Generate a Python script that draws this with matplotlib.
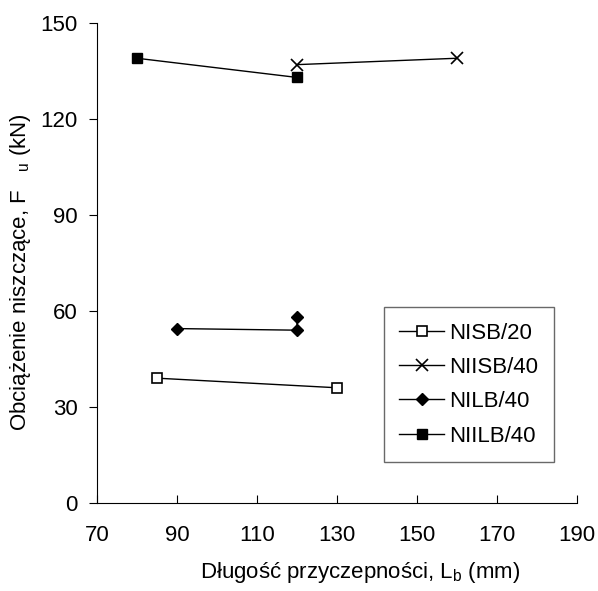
import matplotlib
matplotlib.use("Agg")
from matplotlib import pyplot as plt

plt.rcParams['font.family'] = ['Liberation Sans', 'DejaVu Sans']
plt.rcParams['mathtext.fontset'] = 'custom'
plt.rcParams['mathtext.rm'] = 'Liberation Sans'

# data
NISB20_X = [85, 130]
NISB20_Y = [39, 36]
NIISB40_X = [120, 160]
NIISB40_Y = [137, 139]
NILB40_X = [90, 120, 120]
NILB40_Y = [54.5, 54, 58]
NIILB40_X = [80, 120]
NIILB40_Y = [139, 133]

X_TICKS = [70, 90, 110, 130, 150, 170, 190]
Y_TICKS = [0, 30, 60, 90, 120, 150]

fig = plt.figure(figsize=(5.98, 5.91), dpi=100)
ax = fig.add_axes([0.162, 0.149, 0.803, 0.812])

ax.plot(NISB20_X, NISB20_Y, color='black', lw=1, marker='s', ms=7,
        mfc='white', mec='black', mew=1.2, label='NISB/20')
ax.plot(NIISB40_X, NIISB40_Y, color='black', lw=1, marker='x', ms=9,
        mew=1.2, label='NIISB/40')
ax.plot(NILB40_X, NILB40_Y, color='black', lw=1, marker='D', ms=6,
        label='NILB/40')
ax.plot(NIILB40_X, NIILB40_Y, color='black', lw=1, marker='s', ms=7,
        label='NIILB/40')

ax.set_xlim(70, 190)
ax.set_ylim(0, 150)
ax.set_xticks(X_TICKS)
ax.set_yticks(Y_TICKS)
ax.spines['top'].set_visible(False)
ax.spines['right'].set_visible(False)
ax.tick_params(axis='x', direction='in', length=6, labelsize=16, pad=16)
ax.tick_params(axis='y', direction='out', length=6, labelsize=16, pad=8)

ax.set_xlabel('Długość przyczepności, L$_\\mathregular{b}$ (mm)', fontsize=16)
ax.set_ylabel('Obciążenie niszczące, F   $_\\mathregular{u}$ (kN)', fontsize=16)
ax.xaxis.set_label_coords(0.548, -0.118)
ax.yaxis.set_label_coords(-0.133, 0.481)

leg = ax.legend(loc='lower right', bbox_to_anchor=(0.975, 0.062), fontsize=16,
                frameon=True, fancybox=False, edgecolor='#444444',
                handlelength=2.0, handletextpad=0.25, labelspacing=0.6,
                borderpad=0.7)
leg.get_frame().set_linewidth(1)

fig.savefig('out.png', dpi=100)
